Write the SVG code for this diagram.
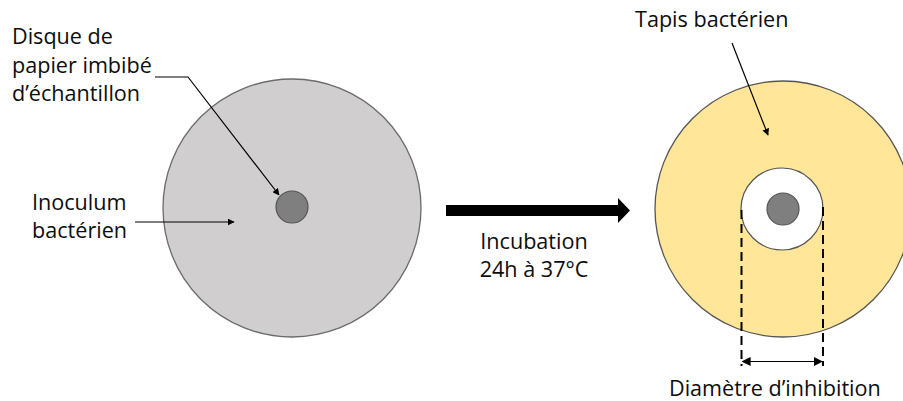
<svg xmlns="http://www.w3.org/2000/svg" width="903" height="401" viewBox="0 0 903 401">
<defs>
<style>
text{font-family:"Open Sans","Noto Sans","Liberation Sans",sans-serif;font-size:21.6px;fill:#0d0d0d;}
.thin{stroke:#000;stroke-width:1.2;fill:none;}
.dash{stroke:#000;stroke-width:2;stroke-dasharray:9,5;fill:none;}
</style>
<marker id="ah" viewBox="0 0 10 10" refX="9" refY="5" markerWidth="7" markerHeight="7" markerUnits="userSpaceOnUse" orient="auto">
<path d="M0,0 L10,5 L0,10 z" fill="#000"/>
</marker>
<marker id="ah2" viewBox="0 0 10 10" refX="9" refY="5" markerWidth="9" markerHeight="9" markerUnits="userSpaceOnUse" orient="auto-start-reverse">
<path d="M0,0 L10,5 L0,10 z" fill="#000"/>
</marker>
</defs>
<rect width="903" height="401" fill="#fff"/>

<g id="plate-before">
<circle cx="292" cy="208" r="129" fill="#d0cece" stroke="#6b6b6b" stroke-width="1.3"/>
<circle cx="292" cy="207" r="16" fill="#7f7f7f" stroke="#555" stroke-width="1.2"/>
</g>

<g id="plate-after">
<circle cx="783" cy="209" r="128" fill="#ffe699" stroke="#555" stroke-width="1.3"/>
<circle cx="782" cy="209" r="41" fill="#fff" stroke="#555" stroke-width="1.2"/>
<circle cx="783" cy="209" r="16" fill="#7f7f7f" stroke="#555" stroke-width="1.2"/>
</g>

<g id="labels">
<text x="12" y="44">Disque de</text>
<text x="12" y="73">papier imbibé</text>
<text x="12" y="101">d’échantillon</text>
<text x="32" y="210">Inoculum</text>
<text x="32" y="238">bactérien</text>
<text x="534" y="249" text-anchor="middle">Incubation</text>
<text x="534" y="277" text-anchor="middle">24h à 37°C</text>
<text x="635" y="27">Tapis bactérien</text>
<text x="669" y="396">Diamètre d’inhibition</text>
</g>

<g id="connectors">
<polyline class="thin" points="155,77 188,77 279,195" marker-end="url(#ah)"/>
<line class="thin" x1="135" y1="222" x2="234" y2="222" marker-end="url(#ah)"/>
<line class="thin" x1="732" y1="43" x2="768" y2="135" marker-end="url(#ah)"/>
<path d="M446,205 L618,205 L618,198 L630,210.5 L618,223 L618,216 L446,216 z" fill="#000"/>
<line class="dash" x1="741.5" y1="210" x2="741.5" y2="366"/>
<line class="dash" x1="823" y1="207" x2="823" y2="366"/>
<line class="thin" x1="742.5" y1="361.5" x2="822" y2="361.5" marker-start="url(#ah2)" marker-end="url(#ah2)"/>
</g>
</svg>
